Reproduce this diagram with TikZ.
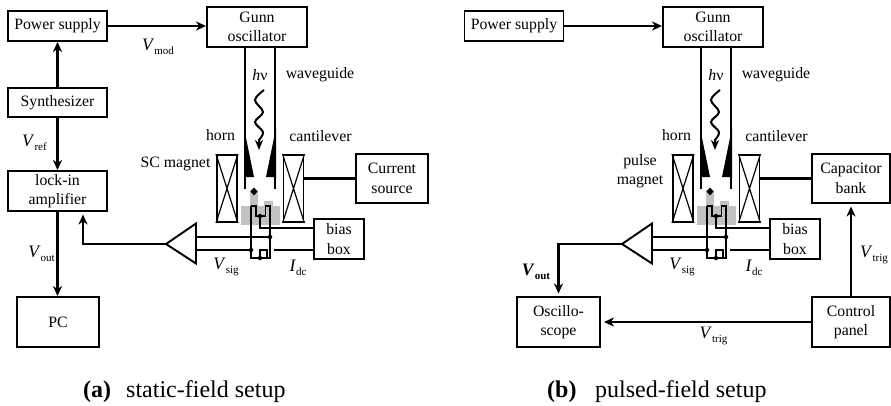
\documentclass[tikz,border=0pt]{standalone}
\usepackage{fontspec}
\setmainfont{Liberation Serif}
\usetikzlibrary{arrows.meta, calc}

\newcommand{\sym}[2]{\textit{\fontsize{17.5}{17.5}\selectfont #1}\raisebox{-3.5pt}{\fontsize{11}{11}\selectfont #2}}
\newcommand{\symb}[2]{\textbf{\textit{\fontsize{17.5}{17.5}\selectfont #1}\raisebox{-3.5pt}{\fontsize{11}{11}\selectfont #2}}}

\tikzset{
  wire/.style={line width=2.1pt},
  trace/.style={line width=1.6pt},
  feed/.style={line width=2.1pt, -{Stealth[length=10pt,width=9pt,inset=3pt]}},
  box/.style={draw, line width=1.9pt, inner sep=0pt, align=center},
  coil/.style={draw, line width=1.9pt, inner sep=0pt, minimum width=20pt, minimum height=67pt},
  jdot/.style={circle, fill=black, inner sep=0pt, minimum size=4.5pt},
  lab/.style={inner sep=0pt, align=center},
  capt/.style={inner sep=0pt, anchor=base west, font=\fontsize{24}{26}\selectfont}
}

% parts shared by both setups
\newcommand{\probeunit}{
  \node[box, minimum width=100pt, minimum height=40pt] (gunn) at (257,27) {Gunn\\oscillator};
  \node[coil] (magl) at (227,188.5) {};
  \node[coil] (magr) at (293.5,188.5) {};
  \draw[line width=1.2pt] (magl.north west) -- (magl.south east) (magl.north east) -- (magl.south west);
  \draw[line width=1.2pt] (magr.north west) -- (magr.south east) (magr.north east) -- (magr.south west);
  \node[box, minimum width=50pt, minimum height=40pt] (bias) at (339,239) {bias\\box};
  % waveguide and horn
  \draw[line width=2.3pt] (gunn.south -| 245,0) -- (245,189);
  \draw[line width=2.3pt] (gunn.south -| 275,0) -- (275,189);
  \fill (244,128) -- (254,177) -- (244,177) -- cycle;
  \fill (276,128) -- (266,177) -- (276,177) -- cycle;
  \draw[line width=2pt, -{Stealth[length=10pt,width=8pt,inset=3pt]}] plot[smooth, tension=0.6]
    coordinates {(264,90) (255,100) (263,112) (255,122) (263,132) (259,140)} -- (259,150);
  % sample region
  \fill[black!24] (241,206) rectangle (280,225);
  \fill[black!24] (250,190) rectangle (258,206);
  \fill[black!24] (264,201) rectangle (273,206);
  \fill (254,187.5) -- (257.5,191.5) -- (254,195.5) -- (250.5,191.5) -- cycle;
  \node[jdot] (jc) at (260,216) {};
  \node[jdot] (ju) at (270,237) {};
  \node[jdot] (jl) at (251,250) {};
  \node[jdot] (jb) at (260,258) {};
  \draw[trace] (251,206) -- (256,206) -- (256,216) -- (jc) -- (265.5,216) -- (265.5,206) -- (270,206) -- (ju) -- (270,258) -- (264,258) -- (jb);
  \draw[trace] (251,206) -- (jl) -- (251,258) -- (257,258) -- (jb);
  \draw[trace] (jb) -- (260,250) -- (267,250) -- (267,257);
  \draw[wire] (jc) |- (bias.west |- 0,228);
  \draw[wire] (274,250) -- (bias.west |- 0,250);
  % amplifier
  \coordinate (amptip) at (166,244);
  \draw[line width=1.9pt] (amptip) -- (196,223.5) -- (196,263.5) -- cycle;
  \draw[wire] (196,237) -- (ju);
  \draw[wire] (196,250) -- (jl);
  % labels
  \node[lab] (hnu) at (260,75) {\textit{h}ν};
  \node[lab] (wg) at (320,75) {waveguide};
  \node[lab] (horn) at (220.5,135) {horn};
  \node[lab] (cant) at (320.5,136) {cantilever};
  \node[lab] (vsig) at (226,267) {\sym{V}{sig}};
  \node[lab] (idc) at (298,268) {\sym{I}{dc}};
}

\begin{document}
\begin{tikzpicture}[x=1pt, y=-1pt, font=\fontsize{15.8}{19.5}\selectfont]
  \useasboundingbox (0,0) rectangle (891,405);

  % (a) static field
  \begin{scope}[name prefix=a-]
    \probeunit
    \node[box, minimum width=99pt, minimum height=30pt] (power) at (57.5,26) {Power supply};
    \node[box, minimum width=99pt, minimum height=29pt] (synth) at (57.5,102.5) {Synthesizer};
    \node[box, minimum width=99pt, minimum height=40pt] (lockin) at (57.5,191) {lock-in\\amplifier};
    \node[box, minimum width=82pt, minimum height=50pt] (pc) at (58,322) {PC};
    \node[box, minimum width=72pt, minimum height=49pt] (source) at (392,178.5) {Current\\source};
    \draw[feed] (power) -- (gunn.west |- power);
    \draw[feed] (synth) -- (power);
    \draw[feed] (synth) -- (lockin);
    \draw[feed] (lockin.south) -- (lockin.south |- pc.north);
    \draw[feed, shorten >=2.5pt] (amptip) -| (lockin.south -| 83,0);
    \draw[wire] (magr.east |- source) -- (source);
    \node[lab] (vmod) at (158,47) {\sym{V}{mod}};
    \node[lab] (vref) at (34.5,143) {\sym{V}{ref}};
    \node[lab] (vout) at (41.5,254) {\sym{V}{out}};
    \node[lab] (mag) at (175.5,164) {SC magnet};
    \node[capt] (capa) at (83,397) {\textbf{(a)}};
    \node[capt] (capta) at (126,397) {static-field setup};
  \end{scope}

  % (b) pulsed field
  \begin{scope}[xshift=456pt, name prefix=b-]
    \probeunit
  \end{scope}
  \node[box, minimum width=99pt, minimum height=30pt] (b-power) at (514,26) {Power supply};
  \node[box, minimum width=83pt, minimum height=50pt] (b-scope) at (558.5,322) {Oscillo-\\scope};
  \node[box, minimum width=77.5pt, minimum height=50pt] (b-panel) at (851,322) {Control\\panel};
  \node[box, minimum width=77.5pt, minimum height=49pt] (b-bank) at (851,178.5) {Capacitor\\bank};
  \draw[feed] (b-power) -- (b-gunn.west |- b-power);
  \draw[wire] (b-magr.east |- b-bank) -- (b-bank);
  \draw[feed, shorten >=2.5pt] (b-amptip) -| (b-scope.north);
  \draw[feed, shorten >=3pt] (b-panel) -- (b-scope);
  \draw[feed, shorten >=2.5pt] (b-panel) -- (b-bank);
  \node[lab] (b-vout) at (536,272) {\symb{V}{out}};
  \node[lab] (b-vtrig) at (874,255) {\sym{V}{trig}};
  \node[lab] (b-vtrigb) at (713.5,336) {\sym{V}{trig}};
  \node[lab] (b-mag) at (640,171) {pulse\\magnet};
  \node[capt] (b-cap) at (547,397) {\textbf{(b)}};
  \node[capt] (b-capt) at (595,397) {pulsed-field setup};
\end{tikzpicture}
\end{document}
